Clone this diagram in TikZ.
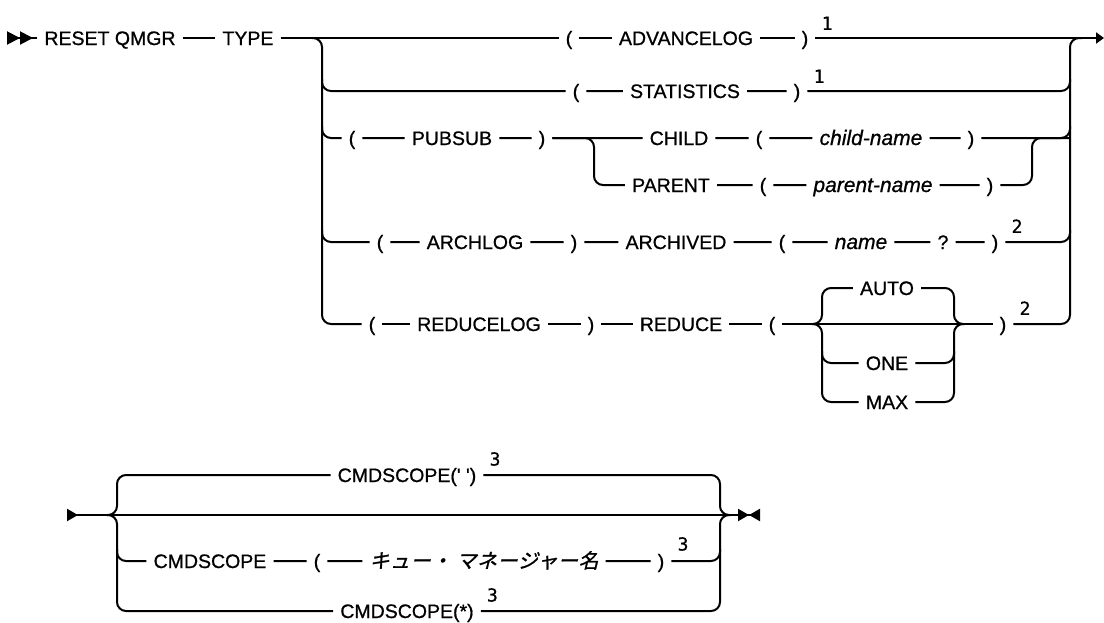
\documentclass[tikz,border=0pt]{standalone}
\usepackage{fontspec}
\setmainfont{Liberation Sans}
\newfontfamily\railfont[FakeBold=0.8]{Liberation Sans}
\newfontfamily\notefont[FakeBold=0.6]{DejaVu Sans Mono}
\newfontfamily\jpfont[FakeSlant=0.25,FakeBold=1.2,LetterSpace=3]{Noto Sans CJK JP}
\usetikzlibrary{arrows.meta, positioning}
\newcommand\synfont{\fontsize{19.5}{23}\selectfont\railfont}

\begin{document}
\begin{tikzpicture}[x=1pt, y=-1pt,
      rail/.style={line width=2pt, rounded corners=9pt},
      tok/.style={font=\synfont, inner xsep=7pt, inner ysep=1pt, text height=14pt, text depth=0pt},
      var/.style={tok, font=\synfont\fontsize{21}{25}\selectfont\itshape},
      jp/.style={tok, font=\fontsize{20}{24}\selectfont\jpfont},
      note/.style={font=\fontsize{18}{20}\selectfont\notefont, inner sep=1pt, anchor=south west}
    ]
      \useasboundingbox (0,0) rectangle (1104,622);

      % junctions of the big branch
      \foreach \r/\y in {b/91, c/138, e/242} {
        \coordinate (L\r) at (322,\y);
        \coordinate (R\r) at (1070,\y);
      }
      \coordinate (start) at (7,38);
      \coordinate (stop) at (1104,38);
      \coordinate (lt) at (312,38);
      \coordinate (Lf) at (322,324);
      \coordinate (Ra) at (1070,38);
      \coordinate (rt) at (1082,38);
      \coordinate (pld) at (594,185);
      \coordinate (pru) at (1032,138);

      % main line
      \node[tok] (reset) at (110,38) {RESET QMGR};
      \node[tok] (type) at (248,38) {TYPE};
      \node[tok] (advopen) at (569,38) {(};
      \node[tok] (adv) at (686,38) {ADVANCELOG};
      \node[tok] (advclose) at (805,38) {)};
      \node[note] (fadv) at ([xshift=5pt,yshift=7pt]advclose.east) {1};

      % statistics
      \node[tok] (statopen) at (576,91) {(};
      \node[tok] (stat) at (685,91) {STATISTICS};
      \node[tok] (statclose) at (797,91) {)};
      \node[note] (fstat) at ([xshift=5pt,yshift=7pt]statclose.east) {1};

      % pubsub
      \node[tok] (psopen) at (352,138) {(};
      \node[tok] (pubsub) at (452,138) {PUBSUB};
      \node[tok] (psclose) at (542,138) {)};
      \node[tok] (child) at (679,138) {CHILD};
      \node[tok] (copen) at (759,138) {(};
      \node[var] (childname) at (871,138) {child-name};
      \node[tok] (cclose) at (971,138) {)};
      \node[tok] (parent) at (671,185) {PARENT};
      \node[tok] (popen) at (763,185) {(};
      \node[var] (parentname) at (873,185) {parent-name};
      \node[tok] (pclose) at (990,185) {)};

      % archlog
      \node[tok] (aopen) at (380,242) {(};
      \node[tok] (archlog) at (475,242) {ARCHLOG};
      \node[tok] (aclose) at (574,242) {)};
      \node[tok] (archived) at (676,242) {ARCHIVED};
      \node[tok] (aopen2) at (782,242) {(};
      \node[var] (name) at (861,242) {name};
      \node[tok] (qmark) at (943,242) {?};
      \node[tok] (aclose2) at (995,242) {)};
      \node[note] (farch) at ([xshift=5pt,yshift=8pt]aclose2.east) {2};

      % reducelog
      \node[tok] (ropen) at (372,324) {(};
      \node[tok] (reducelog) at (479,324) {REDUCELOG};
      \node[tok] (rclose) at (591,324) {)};
      \node[tok] (reduce) at (681,324) {REDUCE};
      \node[tok] (ropen2) at (772,324) {(};
      \node[tok] (auto) at (887,288) {AUTO};
      \node[tok] (one) at (887,363) {ONE};
      \node[tok] (max) at (887,402) {MAX};
      \node[tok] (rclose2) at (1003,324) {)};
      \node[note] (fred) at ([xshift=5pt,yshift=8pt]rclose2.east) {2};
      \coordinate (gin) at (812,324);
      \coordinate (gla) at (822,288);
      \coordinate (glo) at (822,363);
      \coordinate (glm) at (822,402);
      \coordinate (grc) at (954,324);
      \coordinate (gro) at (954,363);
      \coordinate (gout) at (964,324);

      \draw[rail, {Triangle[reversed,length=13pt,width=13pt] Triangle[reversed,length=13pt,width=13pt]}-] (start) -- (reset);
      \draw[rail] (reset) -- (type) -- (advopen) -- (adv) -- (advclose);
      \draw[rail, -{Triangle[length=8pt,width=11pt]}] (advclose) -- (stop);
      \draw[rail] (lt) -| (Lf) -- (ropen);
      \draw[rail] (rclose2) -| (Ra) -- (rt);
      \draw[rail] ([yshift=12pt]Lb) |- (statopen) -- (stat) -- (statclose) -| ([yshift=12pt]Rb);
      \draw[rail] ([yshift=12pt]Lc) |- (psopen) -- (pubsub) -- (psclose) -- (child) -- (copen) -- (childname) -- (cclose) -| ([yshift=12pt]Rc);
      \draw[rail] (psclose) -| (pld) -- (parent) -- (popen) -- (parentname) -- (pclose) -| (pru) -- (Rc);
      \draw[rail] ([yshift=12pt]Le) |- (aopen) -- (archlog) -- (aclose) -- (archived) -- (aopen2) -- (name) -- (qmark) -- (aclose2) -| ([yshift=12pt]Re);
      \draw[rail] (ropen) -- (reducelog) -- (rclose) -- (reduce) -- (ropen2) -- (rclose2);
      \draw[rail] (gin) -| (gla) -- (auto) -| (grc) -- (gout);
      \draw[rail] (gin) -| (glm) -- (max) -| (grc) -- (gout);
      \draw[rail] ([yshift=12pt]glo) |- (one) -| ([yshift=12pt]gro);

      % cmdscope part
      \coordinate (bstart) at (67,515);
      \coordinate (bend) at (760,515);
      \coordinate (bin) at (107,515);
      \coordinate (bla) at (117,475);
      \coordinate (blq) at (117,561);
      \coordinate (blz) at (117,611);
      \coordinate (brc) at (720,515);
      \coordinate (brq) at (720,561);
      \coordinate (bout) at (730,515);
      \node[tok] (scnone) at (407,475) {CMDSCOPE(\textquotesingle\ \textquotesingle)};
      \node[note] (fnone) at ([xshift=5pt,yshift=8pt]scnone.east) {3};
      \node[tok] (scq) at (210,561) {CMDSCOPE};
      \node[tok] (qopen) at (317,561) {(};
      \node[jp] (qname) at (484,561) {キュー・ マネージャー名};
      \node[tok] (qclose) at (661,561) {)};
      \node[note] (fq) at ([xshift=5pt,yshift=9pt]qclose.east) {3};
      \node[tok] (scall) at (407,611) {CMDSCOPE(*)};
      \node[note] (fall) at ([xshift=5pt,yshift=8pt]scall.east) {3};

      \draw[rail, {Triangle[reversed,length=11pt,width=12pt]}-{Triangle[length=11pt,width=12pt] Triangle[reversed,length=11pt,width=12pt]}] (bstart) -- (bend);
      \draw[rail] (bin) -| (bla) -- (scnone) -| (brc) -- (bout);
      \draw[rail] (bin) -| (blz) -- (scall) -| (brc) -- (bout);
      \draw[rail] ([yshift=12pt]blq) |- (scq) -- (qopen) -- (qname) -- (qclose) -| ([yshift=12pt]brq);
    \end{tikzpicture}
\end{document}
